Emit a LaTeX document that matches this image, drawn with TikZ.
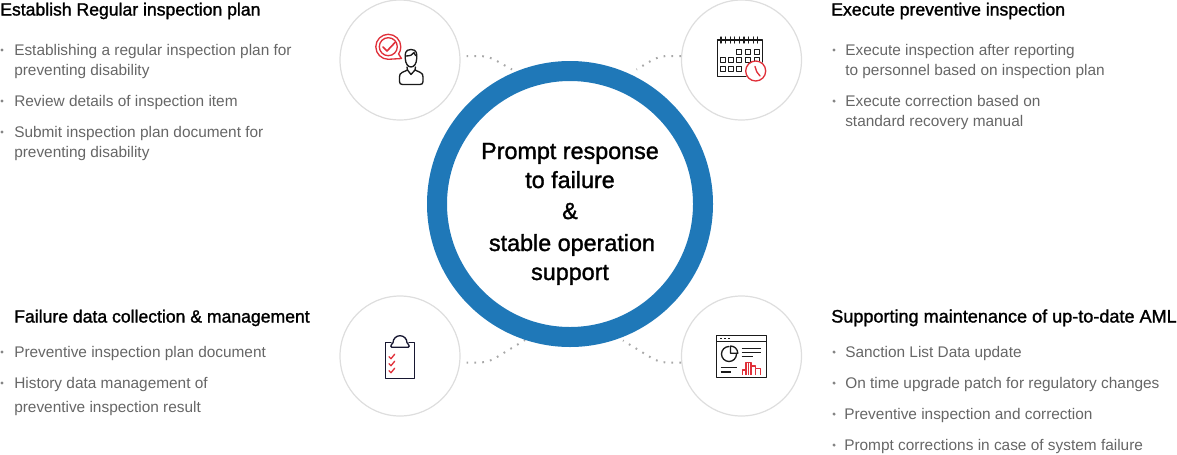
\documentclass[tikz,border=0pt]{standalone}
\usepackage{fontspec}
\setmainfont{Liberation Sans}
\newfontfamily\titlefont[FakeBold=1.4]{Liberation Sans}
\definecolor{ringblue}{HTML}{1F78B8}
\definecolor{bodygrey}{HTML}{666666}
\definecolor{iconred}{HTML}{E0303A}
\definecolor{iconink}{HTML}{1A1A1A}
\definecolor{circlegrey}{HTML}{DEDEDE}
\definecolor{dotgrey}{HTML}{A8A8A8}
\tikzset{
  x=0.75pt,y=-0.75pt,
  title/.style={anchor=base west,inner sep=0pt,font=\titlefont\fontsize{13.2pt}{15pt}\selectfont,text=black},
  item/.style={anchor=base west,inner sep=0pt,font=\fontsize{11.55pt}{13pt}\selectfont,text=bodygrey},
  dotmark/.style={circle,fill=bodygrey!80,inner sep=0pt,minimum size=2.6pt},
  badge/.style={circle,draw=circlegrey,line width=0.9pt,minimum size=90pt,inner sep=0pt,fill=white},
  centertext/.style={anchor=base,inner sep=0pt,font=\titlefont\fontsize{17.5pt}{20pt}\selectfont,text=black},
  link/.style={dotgrey,line width=1.5pt,dash pattern=on 1.3pt off 4.6pt,rounded corners=6pt},
  ink/.style={iconink,line width=1pt,line join=round,line cap=round},
  redink/.style={iconred,line width=1pt,line join=round,line cap=round},
}
\begin{document}
\begin{tikzpicture}
\useasboundingbox (0,0) rectangle (1177,454);
% connectors
\coordinate (tlA) at (466.5,56); \coordinate (tlB) at (512,69.5);
\coordinate (trA) at (681,56); \coordinate (trB) at (636.5,69.5);
\coordinate (blA) at (466.5,362.5); \coordinate (blB) at (525,340);
\coordinate (brA) at (681,362.5); \coordinate (brB) at (623,340.5);
\node[badge] (tl) at (400,60) {};
\node[badge] (tr) at (741.5,60) {};
\node[badge] (bl) at (400,356) {};
\node[badge] (br) at (741.5,356) {};
\draw[link] (tlA) -- (488,56) -- (tlB);
\draw[link] (trA) -- (659,56) -- (trB);
\draw[link] (blA) -- (488,362.5) -- (blB);
\draw[link] (brA) -- (659,362.5) -- (brB);
% ring
\node[circle,draw=ringblue,line width=15pt,minimum size=199.5pt,inner sep=0pt] (ring) at (570,204) {};
\node[centertext] (c1) at (570,159) {Prompt response};
\node[centertext] (c2) at (570,188) {to failure};
\node[centertext] (c3) at (570,219) {\&};
\node[centertext] (c4) at (572,251) {stable operation};
\node[centertext] (c5) at (570,280) {support};
% top left text
\node[title] (t1) at (0,15.5) {Establish Regular inspection plan};
\foreach \n/\xx/\yy/\txt in {a/14/55.5/{Establishing a regular inspection plan for},b/14/75.5/{preventing disability},c/14/106.5/{Review details of inspection item},d/14/137.5/{Submit inspection plan document for},e/14/157.5/{preventing disability}}
  \node[item] (tl\n) at (\xx,\yy) {\txt};
\foreach \n/\yy in {a/50,c/101,d/132} \node[dotmark] (tlb\n) at (2,\yy) {};
% top right text
\node[title] (t2) at (831,15.5) {Execute preventive inspection};
\foreach \n/\xx/\yy/\txt in {a/845/55.5/{Execute inspection after reporting},b/845/75.5/{to personnel based on inspection plan},c/845/106.5/{Execute correction based on},d/845/126.5/{standard recovery manual}}
  \node[item] (tr\n) at (\xx,\yy) {\txt};
\foreach \n/\yy in {a/50,c/101} \node[dotmark] (trb\n) at (834,\yy) {};
% bottom left text
\node[title] (t3) at (14,322.5) {Failure data collection \& management};
\foreach \n/\xx/\yy/\txt in {a/14/357.5/{Preventive inspection plan document},b/14/388.5/{History data management of},c/14/412.5/{preventive inspection result}}
  \node[item] (bl\n) at (\xx,\yy) {\txt};
\foreach \n/\yy in {a/352,b/383} \node[dotmark] (blb\n) at (2,\yy) {};
% bottom right text
\node[title,font=\titlefont\fontsize{13.55pt}{15pt}\selectfont] (t4) at (831,322.5) {Supporting maintenance of up-to-date AML};
\foreach \n/\xx/\yy/\txt in {a/845/357.5/{Sanction List Data update},b/845/388.5/{On time upgrade patch for regulatory changes},c/844/419.5/{Preventive inspection and correction},d/844/450.5/{Prompt corrections in case of system failure}}
  \node[item] (br\n) at (\xx,\yy) {\txt};
\foreach \n/\yy in {a/352,b/383,c/414,d/445} \node[dotmark] (brb\n) at (834,\yy) {};
% icon: person with check bubble
\draw[redink] (388.3,59.3) arc[start angle=90,end angle=395,radius=12.5] -- (401.5,58.5) -- cycle;
\draw[redink] (388.3,46.7) circle[radius=9];
\draw[redink,line width=1.2pt] (383,47) -- (387,51) -- (395,42.5);
\draw[ink] (411,49.5) .. controls (405,49.5) and (405,54) .. (405.2,58) .. controls (405.5,64) and (408,67) .. (411,67) .. controls (414,67) and (416.5,64) .. (416.8,58) .. controls (417,54) and (417,49.5) .. (411,49.5) -- cycle;
\draw[ink] (405.5,56) .. controls (410,56) and (413,55) .. (414,52.5) .. controls (414.5,54.5) and (415.5,55.5) .. (416.5,56);
\draw[ink] (407,67) -- (407.5,70) -- (402,72.5) .. controls (400,73.5) and (399.5,75) .. (399.5,77) -- (399.5,81.5) .. controls (399.5,83.5) and (400.5,84.5) .. (402.5,84.5) -- (420,84.5) .. controls (422,84.5) and (423,83.5) .. (423,81.5) -- (423,77) .. controls (423,75) and (422.5,73.5) .. (420.5,72.5) -- (415,70) -- (415.5,67);
\draw[ink] (407.5,70) -- (411,74.5) -- (415,70);
% icon: calendar
\draw[ink] (717.5,40) -- (762.5,40) -- (762.5,62);
\draw[ink] (717.5,40) -- (717.5,76.5) -- (746,76.5);
\foreach \xx in {721,725.6,730.2,734.8,739.4,744,748.6,753.2,757.8}
  \draw[ink] (\xx,37) -- (\xx,43);
\foreach \xx/\yy in {739.3/51.7,748.3/51.7,756.7/51.7,722.7/60.3,731/60.3,739.3/60.3,748.3/60.3,756.7/60.3,722.7/69,731/69,739.3/69}
  \draw[ink] (\xx-2.5,\yy-2.5) rectangle (\xx+2.5,\yy+2.5);
\draw[redink,fill=white] (755.7,71) circle[radius=10];
\draw[redink] (755,66.5) -- (756.7,71.7) -- (760,76);
% icon: clipboard
\draw[ink,iconink!90!blue] (391,342.7) -- (385.3,342.7) -- (385.3,378.3) -- (414.7,378.3) -- (414.7,342.7) -- (409,342.7);
\draw[ink,iconink!90!blue] (393,342.7) arc[start angle=180,end angle=360,radius=7] -- (408.5,344.5) .. controls (409.5,345.5) and (409.5,347.3) .. (408,347.3) -- (392,347.3) .. controls (390.5,347.3) and (390.5,345.5) .. (391.5,344.5) -- cycle;
\foreach \yy in {356.7,363.7,370.7}
  \draw[redink,line width=1pt] (389,\yy) -- (391,\yy+2) -- (394.7,\yy-2.5);
% icon: window dashboard
\draw[ink,line width=1.1pt,line cap=butt] (716.7,335.3) rectangle (766.7,377.3);
\draw[ink,line width=1.1pt,line cap=butt] (716.7,341.7) -- (766.7,341.7);
\foreach \xx in {720.7,725,729.3} \fill[iconink] (\xx-0.9,337.6) rectangle (\xx+0.9,339);
\draw[ink] (729,346.5) arc[start angle=-90,end angle=-358,radius=7.5];
\draw[ink] (730.5,346) -- (730.5,353.3) -- (737.8,353.3) arc[start angle=0,end angle=-90,radius=7.3];
\foreach \xa/\xb/\yy in {741.7/761/348.3,741.7/761/352.3,741.7/752.7/356.7,720.7/737.3/367.7,720.7/730.7/372}
  \draw[ink,line cap=butt] (\xa,\yy) -- (\xb,\yy);
\draw[redink,line cap=butt] (742.3,374.7) -- (742.3,370) -- (746,370) -- (746,362.3) -- (751,362.3) -- (751,366) -- (755.7,366) -- (755.7,368.7) -- (760.7,368.7) -- (760.7,374.7);
\foreach \xa/\ya in {746/370,751/366,755.7/368.7,748.5/362.3}
  \draw[redink,line cap=butt] (\xa,\ya) -- (\xa,374.7);
\end{tikzpicture}
\end{document}
